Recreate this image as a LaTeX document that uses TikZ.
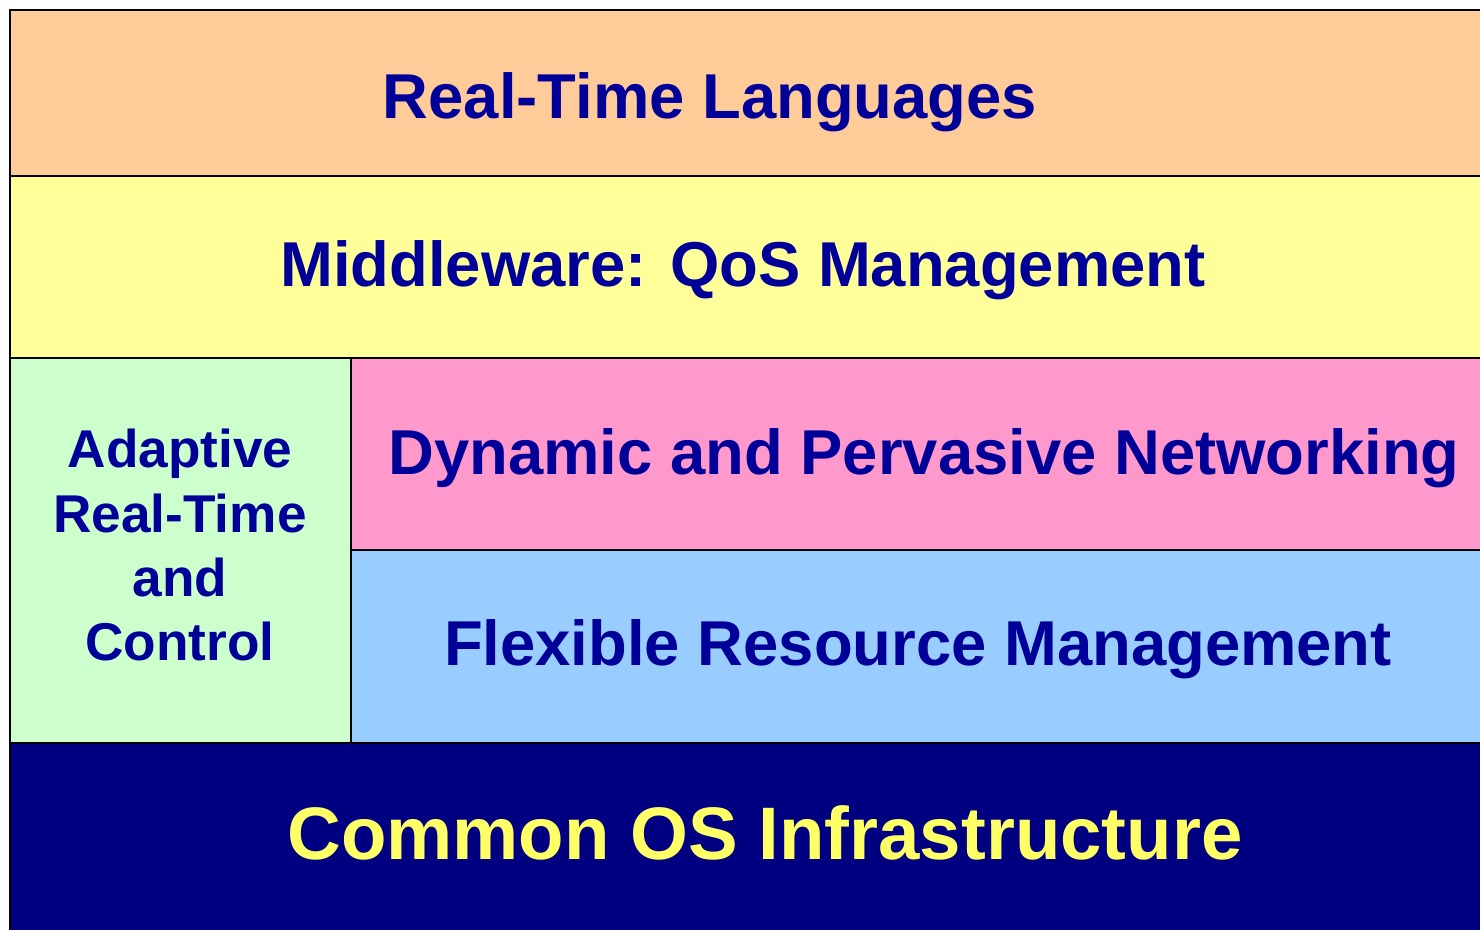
\documentclass[tikz,border=0pt]{standalone}
\usepackage{fontspec}
\setmainfont{Liberation Sans}
\definecolor{langfill}{HTML}{FFCC99}
\definecolor{midfill}{HTML}{FFFF99}
\definecolor{adaptfill}{HTML}{CCFFCC}
\definecolor{netfill}{HTML}{FF99CC}
\definecolor{resfill}{HTML}{99CCFF}
\definecolor{osfill}{HTML}{000080}
\definecolor{labelblue}{HTML}{000099}
\definecolor{labelyellow}{HTML}{FFFF66}
\begin{document}
\begin{tikzpicture}[x=0.5pt,y=-0.5pt,
  layer/.style={draw=black,line width=1pt,rectangle,anchor=north west,inner sep=0pt},
  title/.style={anchor=base,inner sep=0pt,text=labelblue,font=\fontsize{31.7}{38}\selectfont\bfseries},
  sidetitle/.style={anchor=base,inner sep=0pt,text=labelblue,font=\fontsize{26.6}{31}\selectfont\bfseries}]
\useasboundingbox (0,0) rectangle (1480,930);
\clip (0,0) rectangle (1480,930);
% stacked layers
\node[layer,fill=langfill,minimum width=740pt,minimum height=83pt] (lang) at (9,9) {};
\node[layer,fill=midfill,minimum width=740pt,minimum height=91pt] (mid) at (9,175) {};
\node[layer,fill=adaptfill,minimum width=170.5pt,minimum height=192.5pt] (adapt) at (9,357) {};
\node[layer,fill=netfill,minimum width=570pt,minimum height=96pt] (net) at (350,357) {};
\node[layer,fill=resfill,minimum width=570pt,minimum height=96.5pt] (res) at (350,549) {};
\node[layer,fill=osfill,minimum width=740pt,minimum height=110pt] (os) at (9,742) {};
% labels
\node[title] (langtxt) at (710,119) {Real-Time Languages};
\node[title] (midtxt) at (743,287) {Middleware: QoS Management};
\node[title] (nettxt) at (924,475) {Dynamic and Pervasive Networking};
\node[title] (restxt) at (918,666) {Flexible Resource Management};
\node[title,text=labelyellow,font=\fontsize{37.2}{44}\selectfont\bfseries] (ostxt) at (765,860) {Common OS Infrastructure};
\node[sidetitle] (ad1) at (180,468) {Adaptive};
\node[sidetitle] (ad2) at (180,533) {Real-Time};
\node[sidetitle] (ad3) at (180,597) {and};
\node[sidetitle] (ad4) at (180,661) {Control};
\end{tikzpicture}
\end{document}
